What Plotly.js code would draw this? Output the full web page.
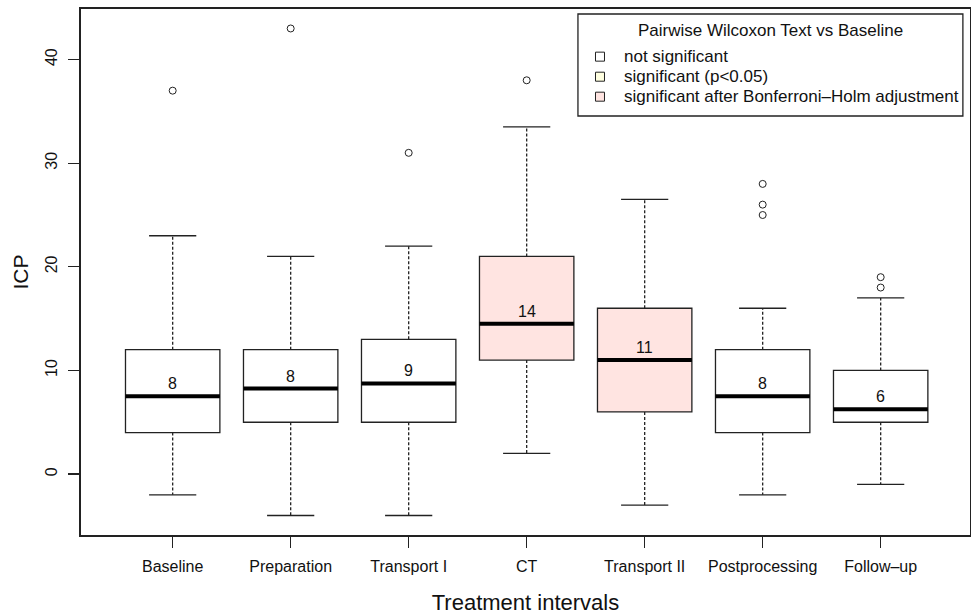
<!DOCTYPE html>
<html>
<head>
<meta charset="utf-8">
<script src="https://cdn.plot.ly/plotly-3.0.1.min.js"></script>
<style>html,body{margin:0;padding:0;background:#fff;}#chart{width:971px;height:615px;}</style>
</head>
<body>
<div id="chart"></div>
<script>
const categories = ['Baseline','Preparation','Transport I','CT','Transport II','Postprocessing','Follow\u2013up'];
const lowerWhisker = [-2, -4, -4, 2, -3, -2, -1];
const q1 = [4, 5, 5, 11, 6, 4, 5];
const medians = [7.5, 8.25, 8.75, 14.5, 11, 7.5, 6.25];
const q3 = [12, 12, 13, 21, 16, 12, 10];
const upperWhisker = [23, 21, 22, 33.5, 26.5, 16, 17];
const outliers = [[37], [43], [31], [38], [], [25, 26, 28], [18, 19]];
const medianLabels = ['8', '8', '9', '14', '11', '8', '6'];
const significance = [0, 0, 0, 2, 2, 0, 0];
const legendLabels = ['not significant', 'significant (p<0.05)', 'significant after Bonferroni\u2013Holm adjustment'];
const legendTitle = 'Pairwise Wilcoxon Text vs Baseline';
const yTicks = [0, 10, 20, 30, 40];

const fills = ['#FFFFFF', '#FFFFE0', '#FFE4E1'];
const FONT = 'Liberation Sans, Arial, Helvetica, sans-serif';
const BOXW = 0.8, CAPW = 0.4;
const pos = categories.map((c, i) => i + 1);

const traces = [];
pos.forEach((p, i) => {
  traces.push({
    type: 'box', x: [p], q1: [q1[i]], median: [medians[i]], q3: [q3[i]],
    lowerfence: [q1[i]], upperfence: [q3[i]], width: BOXW,
    fillcolor: fills[significance[i]], line: {color: '#222', width: 1.3},
    boxpoints: false, showlegend: false, hoverinfo: 'skip', name: categories[i]
  });
});

const wx = [], wy = [], cx = [], cy = [], mx = [], my = [], ox = [], oy = [];
pos.forEach((p, i) => {
  wx.push(p, p, null, p, p, null);
  wy.push(q3[i], upperWhisker[i], null, q1[i], lowerWhisker[i], null);
  cx.push(p - CAPW / 2, p + CAPW / 2, null, p - CAPW / 2, p + CAPW / 2, null);
  cy.push(upperWhisker[i], upperWhisker[i], null, lowerWhisker[i], lowerWhisker[i], null);
  mx.push(p - BOXW / 2, p + BOXW / 2, null);
  my.push(medians[i], medians[i], null);
  outliers[i].forEach(v => { ox.push(p); oy.push(v); });
});
traces.push({type: 'scatter', mode: 'lines', x: wx, y: wy, line: {color: '#222', width: 1.3, dash: '3px,2px'}, showlegend: false, hoverinfo: 'skip'});
traces.push({type: 'scatter', mode: 'lines', x: cx, y: cy, line: {color: '#222', width: 1.3}, showlegend: false, hoverinfo: 'skip'});
traces.push({type: 'scatter', mode: 'lines', x: mx, y: my, line: {color: '#000', width: 4}, showlegend: false, hoverinfo: 'skip'});
traces.push({type: 'scatter', mode: 'markers', x: ox, y: oy, marker: {symbol: 'circle-open', size: 7, color: '#222', line: {width: 1}}, showlegend: false});

const annotations = pos.map((p, i) => ({
  x: p, y: medians[i], text: medianLabels[i], showarrow: false,
  yanchor: 'bottom', yshift: 2, font: {family: FONT, size: 16, color: '#111'}
}));

// Manual legend (paper coordinates of the plot area)
const LEG = {x0: 0.559, x1: 0.992, y0: 0.7966, y1: 0.9905, titleY: 0.960, sqX: 0.5838, textX: 0.6082, itemY: [0.9094, 0.8713, 0.8333]};
const shapes = [{type: 'rect', xref: 'paper', yref: 'paper', x0: LEG.x0, x1: LEG.x1, y0: LEG.y0, y1: LEG.y1,
  line: {color: '#222', width: 1.3}, fillcolor: '#fff', layer: 'above'}];
annotations.push({xref: 'paper', yref: 'paper', x: (LEG.x0 + LEG.x1) / 2, y: LEG.titleY, text: legendTitle,
  showarrow: false, xanchor: 'center', yanchor: 'middle', font: {family: FONT, size: 17, color: '#111'}});
legendLabels.forEach((lab, k) => {
  shapes.push({type: 'rect', xref: 'paper', yref: 'paper', xsizemode: 'pixel', ysizemode: 'pixel',
    xanchor: LEG.sqX, yanchor: LEG.itemY[k], x0: -4.5, x1: 4.5, y0: -4.5, y1: 4.5,
    line: {color: '#222', width: 1}, fillcolor: fills[k], layer: 'above'});
  annotations.push({xref: 'paper', yref: 'paper', x: LEG.textX, y: LEG.itemY[k], text: lab, showarrow: false,
    xanchor: 'left', yanchor: 'middle', font: {family: FONT, size: 17, color: '#111'}});
});

const layout = {
  width: 971, height: 615,
  margin: {l: 81, r: 1, t: 9, b: 80},
  paper_bgcolor: '#fff', plot_bgcolor: '#fff',
  font: {family: FONT, size: 16, color: '#111'},
  showlegend: false,
  xaxis: {
    range: [0.223, 7.757], tickvals: pos, ticktext: categories,
    ticks: 'outside', ticklen: 11, tickwidth: 1.3, tickcolor: '#222', ticklabelstandoff: 5,
    showline: true, mirror: true, linecolor: '#222', linewidth: 1.8,
    showgrid: false, zeroline: false, tickfont: {size: 16},
    title: {text: 'Treatment intervals', font: {size: 22}}
  },
  yaxis: {
    range: [-5.88, 44.88], tickvals: yTicks, tickangle: -90,
    ticks: 'outside', ticklen: 11, tickwidth: 1.3, tickcolor: '#222', ticklabelstandoff: 5,
    showline: true, mirror: true, linecolor: '#222', linewidth: 1.8,
    showgrid: false, zeroline: false, tickfont: {size: 16},
    title: {text: 'ICP', font: {size: 21}}
  },
  shapes: shapes,
  annotations: annotations
};

Plotly.newPlot('chart', traces, layout, {displayModeBar: false, staticPlot: true});
</script>
</body>
</html>
